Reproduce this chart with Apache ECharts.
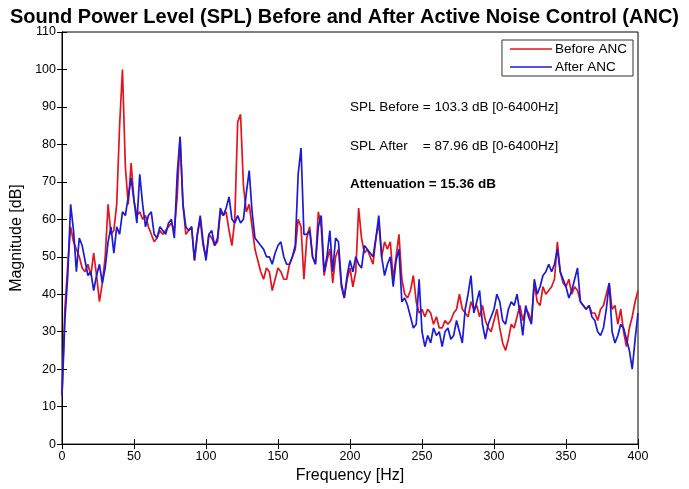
<!DOCTYPE html>
<html><head><meta charset="utf-8">
<script src="https://cdn.jsdelivr.net/npm/echarts@6/dist/echarts.min.js"></script>
<style>html,body{margin:0;padding:0;background:#fff}#c{width:689px;height:489px}</style>
</head><body><div id="c"></div>
<script>
// Frequency grid step (Hz) for the sampled spectrum
var freqStep = 2;
var beforeANC = [
  13,36,48,58,54,52,50,47,46,48,
  45,51,45,38,43,50,64,56,57,64,
  85,100,74,64,75,65,61,62,60,61,
  58,56,54,55,57,56,57,58,59,57,
  66,82,64,56,57,58,49,56,60,53,
  50,56,55,53,54,62,61,62,57,53,
  60,86,88,69,62,64,58,52,49,46,
  44,47,46,41,44,47,46,44,44,48,
  50,52,60,58,44,55,58,50,48,62,
  58,45,49,52,43,50,52,42,39,44,
  47,42,46,63,55,51,52,50,48,55,
  59,50,54,52,54,44,50,56,44,40,
  39,41,45,38,35,36,34,36,35,32,
  34,31,31,33,32,33,35,36,40,36,
  35,34,38,36,37,34,37,33,31,30,
  33,36,31,27,25,28,32,31,34,37,
  33,36,35,33,43,38,37,42,40,41,
  42,44,54,46,43,42,44,40,42,41,
  38,37,36,37,35,35,33,36,37,40,
  43,36,37,32,36,30,26,31,34,38,
  41];
var afterANC = [
  13,33,45,64,57,46,55,53,49,45,
  46,41,45,48,43,47,54,58,51,58,
  56,62,61,66,71,65,59,72,64,58,
  61,62,56,55,58,57,56,59,60,55,
  72,82,64,58,57,58,49,56,61,54,
  49,56,57,53,55,63,61,63,66,60,
  59,61,59,60,67,73,62,55,54,53,
  52,50,50,48,51,53,54,50,48,48,
  50,53,72,79,56,56,57,50,48,58,
  61,46,50,57,46,55,54,43,39,45,
  49,46,50,48,47,53,52,51,50,55,
  61,50,45,48,50,42,49,52,38,39,
  37,34,31,32,44,30,26,29,27,31,
  29,30,26,30,31,28,29,33,30,27,
  36,40,45,35,38,41,32,28,32,34,
  36,40,38,33,32,36,38,37,40,35,
  29,37,34,32,44,40,42,45,46,48,
  46,48,52,46,44,42,39,41,44,47,
  38,37,36,37,34,33,30,29,31,36,
  43,30,27,29,32,31,28,25,20,28,
  35];
var xTicks = [0,50,100,150,200,250,300,350,400];
var yTicks = [0,10,20,30,40,50,60,70,80,90,100,110];
var seriesNames = ['Before ANC','After ANC'];
var notes = ['SPL Before = 103.3 dB [0-6400Hz]','SPL After    = 87.96 dB [0-6400Hz]','Attenuation = 15.36 dB'];

function pairs(arr){ return arr.map(function(v,i){ return [i*freqStep, v]; }); }
var FONT = '"Liberation Sans", Arial, sans-serif';
var chart = echarts.init(document.getElementById('c'), null, {renderer:'canvas'});
var axisLine = {show:true, lineStyle:{color:'#000', width:1}};
var tick = {inside:true, length:5, lineStyle:{color:'#000'}};
chart.setOption({
  animation:false,
  backgroundColor:'#fff',
  title:{text:'Sound Power Level (SPL) Before and After Active Noise Control (ANC)', left:'center', top:2,
    textStyle:{fontFamily:FONT, fontSize:20, fontWeight:'bold', color:'#000'}},
  grid:{left:62, right:51, top:32, bottom:38, show:true, borderColor:'#000', borderWidth:1},
  legend:{data:seriesNames, orient:'vertical', right:56, top:40, icon:'rect', itemWidth:42, itemHeight:1.5, itemGap:4,
    borderColor:'#333', borderWidth:1, padding:[2,6,2,8], backgroundColor:'#fff', borderRadius:0,
    textStyle:{fontFamily:FONT, fontSize:13.5, color:'#000', padding:[0,0,0,-2]}},
  xAxis:[{type:'value', min:0, max:400, interval:50, name:'Frequency [Hz]', nameLocation:'middle', nameGap:23,
    nameTextStyle:{fontFamily:FONT, fontSize:16, color:'#000'},
    axisLine:axisLine, axisTick:tick,
    axisLabel:{fontFamily:FONT, fontSize:12.5, color:'#000', margin:6}, splitLine:{show:false}},
    {type:'value', position:'top', min:0, max:400, interval:50, axisLine:axisLine,
    axisTick:tick, axisLabel:{show:false}, splitLine:{show:false}}],
  yAxis:[{type:'value', min:0, max:110, interval:10, name:'Magnitude [dB]', nameLocation:'middle', nameGap:34,
    nameTextStyle:{fontFamily:FONT, fontSize:16, color:'#000'},
    axisLine:axisLine, axisTick:tick,
    axisLabel:{fontFamily:FONT, fontSize:12.5, color:'#000', margin:6}, splitLine:{show:false}},
    {type:'value', position:'right', min:0, max:110, interval:10, axisLine:axisLine,
    axisTick:tick, axisLabel:{show:false}, splitLine:{show:false}}],
  series:[
    {name:seriesNames[0], type:'line', data:pairs(beforeANC), symbol:'none', color:'#e3141c',
      lineStyle:{width:1.7, color:'#e3141c'}},
    {name:seriesNames[1], type:'line', data:pairs(afterANC), symbol:'none', color:'#1a1ad8',
      lineStyle:{width:1.7, color:'#1a1ad8'}}
  ],
  graphic:[
    {type:'text', left:350, top:100, style:{text:notes[0], font:'13.5px '+FONT, fill:'#000'}},
    {type:'text', left:350, top:139, style:{text:notes[1], font:'13.5px '+FONT, fill:'#000'}},
    {type:'text', left:350, top:177, style:{text:notes[2], font:'bold 13.5px '+FONT, fill:'#000'}}
  ]
});
</script></body></html>
